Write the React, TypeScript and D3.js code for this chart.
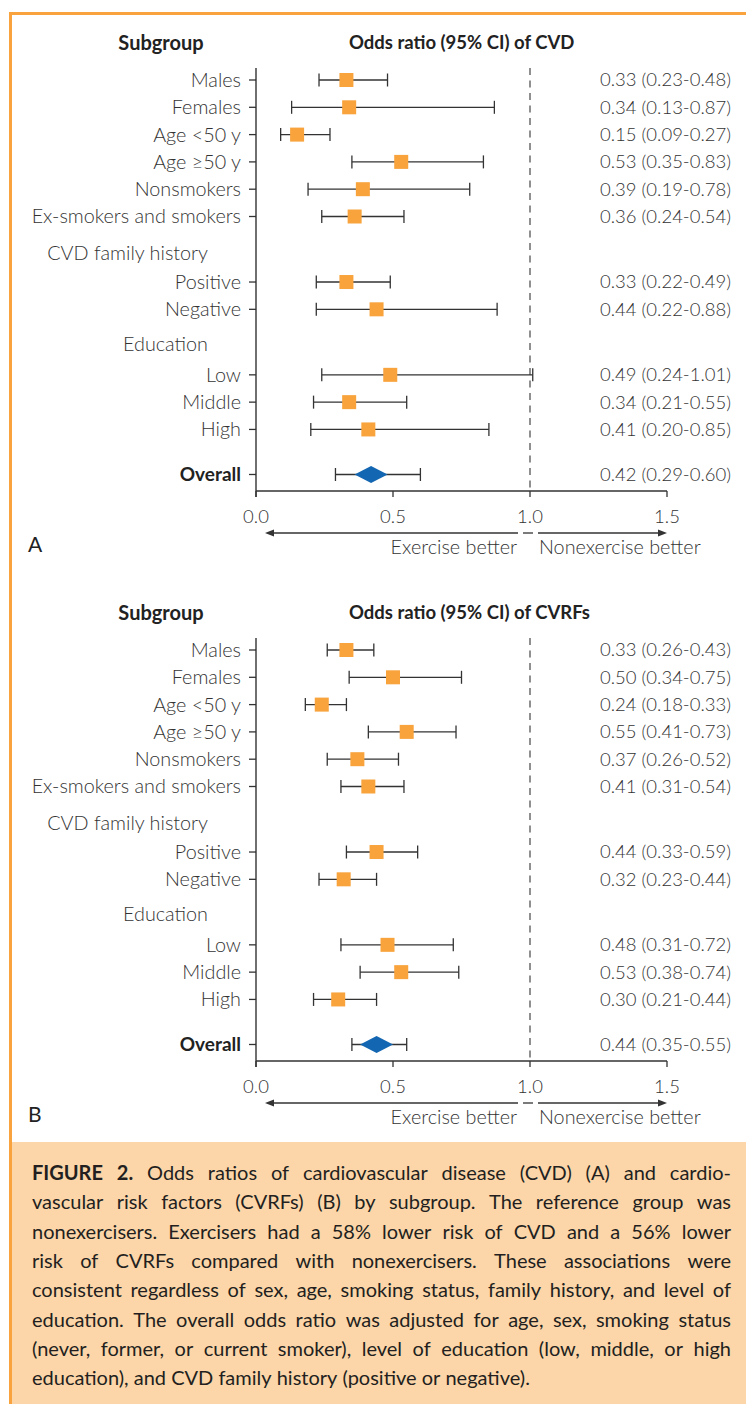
import React, { useMemo } from 'react';
import * as d3 from 'd3';

// rows of both panels (same order)
const subgroups = [
  'Males',
  'Females',
  'Age <50 y',
  'Age ≥50 y',
  'Nonsmokers',
  'Ex-smokers and smokers',
  'Positive',
  'Negative',
  'Low',
  'Middle',
  'High',
  'Overall',
];
const sectionHeaders = ['CVD family history', 'Education'];

// panel A: CVD
const cvdOdds = [0.33, 0.34, 0.15, 0.53, 0.39, 0.36, 0.33, 0.44, 0.49, 0.34, 0.41, 0.42];
const cvdLower = [0.23, 0.13, 0.09, 0.35, 0.19, 0.24, 0.22, 0.22, 0.24, 0.21, 0.2, 0.29];
const cvdUpper = [0.48, 0.87, 0.27, 0.83, 0.78, 0.54, 0.49, 0.88, 1.01, 0.55, 0.85, 0.6];

// panel B: CVRFs
const cvrfOdds = [0.33, 0.5, 0.24, 0.55, 0.37, 0.41, 0.44, 0.32, 0.48, 0.53, 0.3, 0.44];
const cvrfLower = [0.26, 0.34, 0.18, 0.41, 0.26, 0.31, 0.33, 0.23, 0.31, 0.38, 0.21, 0.35];
const cvrfUpper = [0.43, 0.75, 0.33, 0.73, 0.52, 0.54, 0.59, 0.44, 0.72, 0.74, 0.44, 0.55];

const xTicks = [0, 0.5, 1.0, 1.5];
const panelTitles = ['Odds ratio (95% CI) of CVD', 'Odds ratio (95% CI) of CVRFs'];
const panelLetters = ['A', 'B'];
const leftArrowText = 'Exercise better';
const rightArrowText = 'Nonexercise better';

const captionLead = 'FIGURE 2.';
const captionLines = [
  'Odds ratios of cardiovascular disease (CVD) (A) and cardio-',
  'vascular risk factors (CVRFs) (B) by subgroup. The reference group was',
  'nonexercisers. Exercisers had a 58% lower risk of CVD and a 56% lower',
  'risk of CVRFs compared with nonexercisers. These associations were',
  'consistent regardless of sex, age, smoking status, family history, and level of',
  'education. The overall odds ratio was adjusted for age, sex, smoking status',
  '(never, former, or current smoker), level of education (low, middle, or high',
  'education), and CVD family history (positive or negative).',
];

const W = 746;
const H = 1404;
const ORANGE = '#f8a33e';
const PEACH = '#fcd6a9';
const SQUARE = '#f8a33c';
const BLUE = '#1366b1';
const INK = '#333';
const LIGHT = 'Lato, "Open Sans", sans-serif';
const LABEL_SIZE = 19.8;
const NUM_SIZE = 18.5;

// vertical slot of each row / section header (in row units)
const rowSlots = [0, 1, 2, 3, 4, 5, 7.4, 8.4, 10.8, 11.8, 12.8, 14.45];
const headerSlots = [6.33, 9.68];

const fmt = (v: number) => v.toFixed(2);

const Panel = ({ offset, odds, lower, upper, title, letter }: any) => {
  const x = d3.scaleLinear().domain([0, 1.5]).range([256, 667]);
  const y = d3.scaleLinear().domain([0, 1]).range([80 + offset, 107.3 + offset]);
  const axisTop = 68 + offset;
  const axisY = 491 + offset;
  const arrowY = 533 + offset;
  const ref = x(1);
  const last = subgroups.length - 1;

  return (
    <g>
      <text x={161} y={43 + offset} dy="0.35em" textAnchor="middle" fontFamily={LIGHT} fontWeight={700} fontSize={20} fill="#222">
        Subgroup
      </text>
      <text x={349} y={43 + offset} dy="0.35em" fontFamily={LIGHT} fontWeight={700} fontSize={18.5} fill="#222">
        {title}
      </text>

      {/* reference line */}
      <line x1={ref} x2={ref} y1={axisTop} y2={axisY} stroke="#555" strokeWidth={1.3} strokeDasharray="7,5.5" />

      {/* y axis */}
      <line x1={x(0)} x2={x(0)} y1={axisTop} y2={axisY + 6} stroke={INK} strokeWidth={1.4} />
      {subgroups.map((s, i) => (
        <g key={s}>
          <line x1={x(0) - 7} x2={x(0)} y1={y(rowSlots[i])} y2={y(rowSlots[i])} stroke={INK} strokeWidth={1.3} />
          <text
            x={241}
            y={y(rowSlots[i])}
            dy="0.35em"
            textAnchor="end"
            fontFamily={LIGHT}
            fontWeight={i === last ? 700 : 300}
            fontSize={i === last ? 19 : LABEL_SIZE}
            fill={i === last ? '#222' : INK}
          >
            {s}
          </text>
        </g>
      ))}
      {sectionHeaders.map((h, i) => (
        <text key={h} x={208} y={y(headerSlots[i])} dy="0.35em" textAnchor="end" fontFamily={LIGHT} fontWeight={300} fontSize={LABEL_SIZE} fill={INK}>
          {h}
        </text>
      ))}

      {/* x axis */}
      <line x1={x(0)} x2={x(1.5)} y1={axisY} y2={axisY} stroke={INK} strokeWidth={1.4} />
      {xTicks.map((t) => (
        <g key={t}>
          <line x1={x(t)} x2={x(t)} y1={axisY} y2={axisY + 6} stroke={INK} strokeWidth={1.3} />
          <text x={x(t)} y={517 + offset} dy="0.35em" textAnchor="middle" fontFamily={LIGHT} fontWeight={300} fontSize={NUM_SIZE} fill={INK}>
            {t.toFixed(1)}
          </text>
        </g>
      ))}

      {/* CI whiskers and markers */}
      {subgroups.map((s, i) => {
        const cy = y(rowSlots[i]);
        const x1 = x(lower[i]);
        const x2 = x(upper[i]);
        const cx = x(odds[i]);
        return (
          <g key={'ci' + s}>
            <line x1={x1} x2={x2} y1={cy} y2={cy} stroke={INK} strokeWidth={1.3} />
            <line x1={x1} x2={x1} y1={cy - 6.5} y2={cy + 6.5} stroke={INK} strokeWidth={1.3} />
            <line x1={x2} x2={x2} y1={cy - 6.5} y2={cy + 6.5} stroke={INK} strokeWidth={1.3} />
            {i === last ? (
              <path d={`M${cx - 16.5},${cy} L${cx},${cy - 8.5} L${cx + 16.5},${cy} L${cx},${cy + 8.5} Z`} fill={BLUE} />
            ) : (
              <rect x={cx - 7} y={cy - 7} width={14} height={14} fill={SQUARE} />
            )}
            <text x={731} y={cy} dy="0.35em" textAnchor="end" fontFamily={LIGHT} fontWeight={300} fontSize={NUM_SIZE} fill={INK}>
              {`${fmt(odds[i])} (${fmt(lower[i])}-${fmt(upper[i])})`}
            </text>
          </g>
        );
      })}

      {/* direction arrows */}
      <line x1={ref - 12} x2={x(0) + 12} y1={arrowY} y2={arrowY} stroke={INK} strokeWidth={1.3} />
      <path d={`M${x(0) + 9},${arrowY} l9,-3.5 l0,7 Z`} fill={INK} />
      <line x1={ref - 7} x2={ref + 3} y1={arrowY} y2={arrowY} stroke={INK} strokeWidth={1.3} />
      <line x1={ref + 8} x2={x(1.5) - 6} y1={arrowY} y2={arrowY} stroke={INK} strokeWidth={1.3} />
      <path d={`M${x(1.5)},${arrowY} l-9,-3.5 l0,7 Z`} fill={INK} />
      <text x={ref - 13} y={547 + offset} dy="0.35em" textAnchor="end" fontFamily={LIGHT} fontWeight={300} fontSize={LABEL_SIZE} fill={INK}>
        {leftArrowText}
      </text>
      <text x={ref + 9} y={547 + offset} dy="0.35em" fontFamily={LIGHT} fontWeight={300} fontSize={LABEL_SIZE} fill={INK}>
        {rightArrowText}
      </text>

      <text x={28} y={545 + offset} dy="0.35em" fontFamily={LIGHT} fontWeight={400} fontSize={21} fill="#222">
        {letter}
      </text>
    </g>
  );
};

const Caption = () => {
  const left = 32;
  const right = 731;
  const words = useMemo(() => {
    const ctx = document.createElement('canvas').getContext('2d') as CanvasRenderingContext2D;
    let size = 20;
    const measure = (t: string, bold: boolean, sz: number) => {
      ctx.font = `${bold ? 700 : 400} ${sz}px Lato`;
      return ctx.measureText(t).width;
    };
    const lines = captionLines.map((l, i) => {
      const ws = l.split(' ').map((t) => ({ t, bold: false }));
      if (i === 0) return captionLead.split(' ').map((t) => ({ t, bold: true })).concat(ws);
      return ws;
    });
    const natural = (ws: any[], sz: number) =>
      d3.sum(ws, (w: any) => measure(w.t, w.bold, sz)) + (ws.length - 1) * measure(' ', false, sz);
    const widest = d3.max(lines, (ws) => natural(ws, size)) as number;
    if (widest > right - left - 8) size = (size * (right - left - 8)) / widest;
    const out: any[] = [];
    lines.forEach((ws, li) => {
      const widths = ws.map((w: any) => measure(w.t, w.bold, size));
      const total = d3.sum(widths);
      const gap = li === lines.length - 1 ? measure(' ', false, size) : (right - left - total) / (ws.length - 1);
      let cx = left;
      ws.forEach((w: any, k: number) => {
        out.push({ ...w, x: cx, line: li });
        cx += widths[k] + gap;
      });
    });
    return { out, size };
  }, []);

  const y = d3.scaleLinear().domain([0, 1]).range([1173, 1202.3]);
  return (
    <g>
      {words.out.map((w: any, i: number) => (
        <text
          key={i}
          x={w.x}
          y={y(w.line)}
          dy="0.35em"
          fontFamily={LIGHT}
          fontWeight={w.bold ? 700 : 400}
          fontSize={words.size}
          fill="#231f20"
        >
          {w.t}
        </text>
      ))}
    </g>
  );
};

export default function App() {
  return (
    <svg width={W} height={H} style={{ position: 'absolute', left: 0, top: 0, background: '#fff' }}>
      <rect x={0} y={0} width={W} height={H} fill="#fff" />
      <rect x={12} y={1142} width={W - 12} height={H - 1142} fill={PEACH} />
      <rect x={9} y={12} width={W - 9} height={3} fill={ORANGE} />
      <rect x={9} y={12} width={3} height={H - 12} fill={ORANGE} />
      <Panel offset={0} odds={cvdOdds} lower={cvdLower} upper={cvdUpper} title={panelTitles[0]} letter={panelLetters[0]} />
      <Panel offset={570} odds={cvrfOdds} lower={cvrfLower} upper={cvrfUpper} title={panelTitles[1]} letter={panelLetters[1]} />
      <Caption />
    </svg>
  );
}
